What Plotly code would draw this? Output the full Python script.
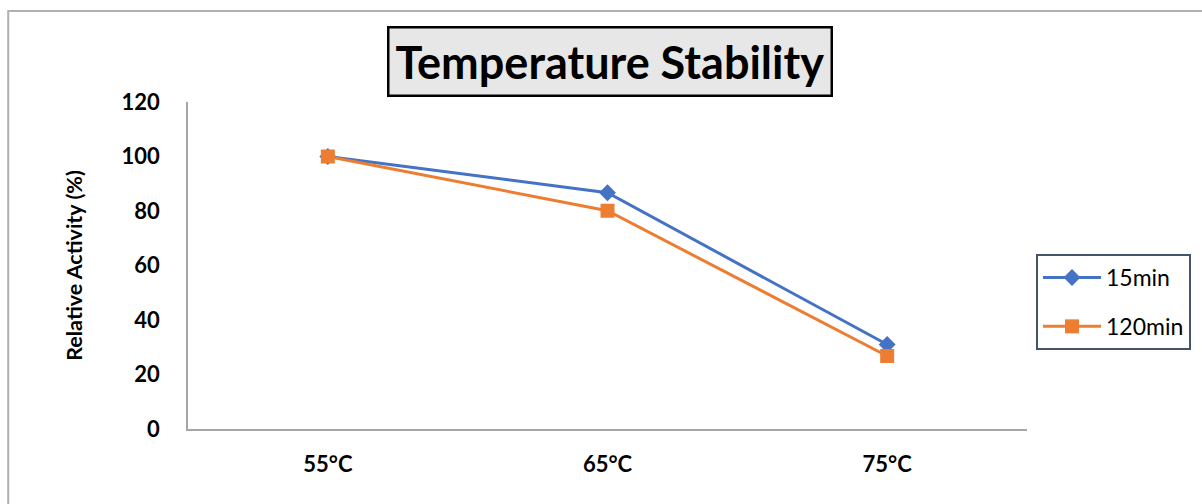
import plotly.graph_objects as go

categories = ["55°C", "65°C", "75°C"]
series_15 = [100, 86.7, 31.0]
series_120 = [100, 80.1, 26.8]
y_ticks = [0, 20, 40, 60, 80, 100, 120]

W, H = 1202, 504
L, R, T, B = 188, 174, 102, 75
pw, ph = W - L - R, H - T - B

def px(x):
    return (x - L) / pw

def py(y):
    return (H - B - y) / ph

FONT = "Lato, 'Open Sans', sans-serif"

fig = go.Figure()
fig.add_trace(go.Scatter(
    x=categories, y=series_15, name="15min", mode="lines+markers",
    legendgroup="a",
    line=dict(color="#4472C4", width=3),
    marker=dict(symbol="diamond", size=13, color="#4472C4"),
))
fig.add_trace(go.Scatter(
    x=categories, y=series_120, name="120min", mode="lines+markers",
    legendgroup="b",
    line=dict(color="#ED7D31", width=3),
    marker=dict(symbol="square", size=14, color="#ED7D31"),
))

fig.update_layout(
    width=W, height=H,
    margin=dict(l=L, r=R, t=T, b=B),
    paper_bgcolor="white", plot_bgcolor="white",
    font=dict(family=FONT, color="black"),
    showlegend=True,
    legend=dict(
        x=px(1036), y=py(254), xanchor="left", yanchor="top",
        bordercolor="#44546A", borderwidth=2, bgcolor="white",
        font=dict(size=23, family=FONT, color="black"),
        tracegroupgap=16, itemwidth=58,
    ),
    xaxis=dict(
        type="category", showgrid=False, showline=True, linecolor="#A6A6A6",
        linewidth=1.5, ticks="", range=[-0.5, 2.5],
        tickfont=dict(size=22, family=FONT, color="black", weight="bold"),
        ticklabelstandoff=15,
    ),
    yaxis=dict(
        range=[0, 120], tickvals=y_ticks, showgrid=False, showline=True,
        linecolor="#A6A6A6", linewidth=1.5, ticks="", zeroline=False,
        tickfont=dict(size=22, family=FONT, color="black", weight="bold"),
        ticklabelstandoff=22,
        title=dict(text="<b>Relative Activity (%)</b>", standoff=33,
                   font=dict(size=21.5, family=FONT, color="black")),
    ),
)

# outer chart frame
fig.add_shape(type="rect", xref="paper", yref="paper",
              x0=px(8), x1=px(1215), y0=py(520), y1=py(11),
              line=dict(color="#B0B0B0", width=2), fillcolor="rgba(0,0,0,0)",
              layer="below")

# boxed title
fig.add_annotation(
    text="<b>Temperature Stability</b>", xref="paper", yref="paper",
    x=px(611), y=py(61), xanchor="center", yanchor="middle", showarrow=False,
    font=dict(size=45, family=FONT, color="black"),
    bgcolor="#E7E7E7", bordercolor="black", borderwidth=2.5, borderpad=6,
)

fig.write_html("out.html")
